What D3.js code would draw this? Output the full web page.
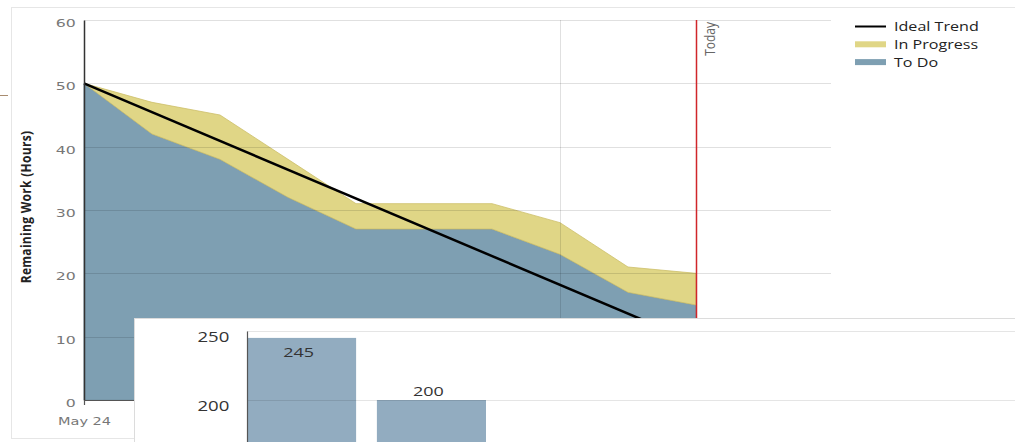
<!DOCTYPE html>
<html>
<head>
<meta charset="utf-8">
<script src="https://cdn.jsdelivr.net/npm/d3@7"></script>
<style>
  body { margin: 0; background: #fff; }
  svg { display: block; font-family: "Open Sans", "Noto Sans", sans-serif; }
</style>
</head>
<body>
<div id="chart"></div>
<script>
// burndown data
const days = ["2013-05-24", "2013-05-25", "2013-05-26", "2013-05-27", "2013-05-28",
              "2013-05-29", "2013-05-30", "2013-05-31", "2013-06-01", "2013-06-02"]
const toDo = [50, 42, 38, 32, 27, 27, 27, 23, 17, 15]
const inProgress = [0, 5, 7, 6, 4, 4, 4, 5, 4, 5]
const idealDays = ["2013-05-24", "2013-06-04"]
const idealValues = [50, 0]
const todayDate = "2013-06-02"
const xTickDays = ["2013-05-24", "2013-05-31"]
const yTicks = [0, 10, 20, 30, 40, 50, 60]

// the small bar chart lying over the bottom
const barCategories = ["A", "B"]
const barValues = [245, 200]
const barTicks = [200, 250]

const colors = { toDo: "#7e9fb2", inProgress: "#e0d686", bar: "#92acc0" }

const W = 1015, H = 442
const parse = d3.timeParse("%Y-%m-%d")
const fmtDay = d => d3.timeFormat("%b ")(d) + d.getDate()

const svg = d3.select("#chart")
    .append("svg")
    .attr("width", W)
    .attr("height", H)

// outer frame
svg.append("rect")
    .attr("x", 11.5).attr("y", 7.5)
    .attr("width", 1100).attr("height", 431)
    .attr("fill", "none")
    .attr("stroke", "#e6e6e6")
svg.append("line")
    .attr("x1", 0).attr("x2", 8).attr("y1", 95.5).attr("y2", 95.5)
    .attr("stroke", "#a88c70")

/* scales */
let x = d3.scaleTime()
    .domain([parse("2013-05-24"), parse("2013-06-04")])
    .range([84, 832])
let y = d3.scaleLinear()
    .domain([0, 60])
    .range([400, 20])

/* stacked areas */
const rows = days.map((d, i) => ({ date: parse(d), toDo: toDo[i], inProgress: inProgress[i] }))
const stacked = d3.stack().keys(["toDo", "inProgress"])(rows)

const area = d3.area()
    .x(d => x(d.data.date))
    .y0(d => y(d[0]))
    .y1(d => y(d[1]))

svg.selectAll("path.layer")
    .data(stacked)
    .enter()
    .append("path")
    .attr("class", "layer")
    .attr("d", area)
    .attr("fill", d => colors[d.key])
    .attr("stroke", d => d.key === "toDo" ? "#6f8ea0" : "#cdbf6a")
    .attr("stroke-width", 0.8)

/* grid */
svg.append("g")
    .selectAll("line")
    .data(yTicks.filter(t => t > 0))
    .enter()
    .append("line")
    .attr("x1", 84).attr("x2", 831)
    .attr("y1", d => Math.round(y(d)) + 0.5)
    .attr("y2", d => Math.round(y(d)) + 0.5)
    .attr("stroke", "rgba(0,0,0,0.12)")
svg.append("line")
    .attr("x1", Math.round(x(parse(xTickDays[1]))) + 0.5)
    .attr("x2", Math.round(x(parse(xTickDays[1]))) + 0.5)
    .attr("y1", 20).attr("y2", 400)
    .attr("stroke", "rgba(0,0,0,0.12)")

/* ideal trend */
svg.append("path")
    .datum(idealDays.map((d, i) => [parse(d), idealValues[i]]))
    .attr("d", d3.line().x(d => x(d[0])).y(d => y(d[1])))
    .attr("fill", "none")
    .attr("stroke", "#000")
    .attr("stroke-width", 2.5)

/* today marker */
const tx = Math.round(x(parse(todayDate))) + 0.5
svg.append("line")
    .attr("x1", tx).attr("x2", tx)
    .attr("y1", 20).attr("y2", 400)
    .attr("stroke", "#d0262a")
    .attr("stroke-width", 1.5)
svg.append("text")
    .attr("transform", `translate(${tx + 18.5}, 22) rotate(-90) scale(1, 1.25)`)
    .attr("text-anchor", "end")
    .attr("font-size", 12)
    .attr("fill", "#666")
    .text("Today")

/* axes */
svg.append("g")
    .attr("transform", "translate(84, 0)")
    .call(d3.axisLeft(y).tickValues(yTicks).tickSize(0))
    .call(g => g.select(".domain").attr("stroke", "#333").attr("stroke-width", 1.5))
    .call(g => g.selectAll("text")
        .attr("x", -5.5)
        .attr("dy", "0.62em")
        .attr("transform", "scale(1.5, 1)")
        .attr("font-size", 10.5)
        .attr("fill", "#777")
        .attr("font-family", "'DejaVu Sans', sans-serif"))

svg.append("g")
    .attr("transform", "translate(0, 400)")
    .call(d3.axisBottom(x).tickValues(xTickDays.map(parse)).tickFormat(fmtDay).tickSize(5).tickPadding(13))
    .call(g => g.select(".domain").attr("stroke", "#555").attr("stroke-width", 1.2))
    .call(g => g.selectAll("line").attr("stroke", "#555"))
    .call(g => g.selectAll("text")
        .attr("transform", "scale(1.38, 1)")
        .attr("font-size", 10.5)
        .attr("fill", "#777")
        .attr("font-family", "'DejaVu Sans', sans-serif"))

svg.append("text")
    .attr("transform", "translate(31, 207) rotate(-90) scale(1, 1.15)")
    .attr("text-anchor", "middle")
    .attr("font-size", 12)
    .attr("font-weight", "bold")
    .attr("letter-spacing", 0.3)
    .attr("fill", "#222")
    .text("Remaining Work (Hours)")

/* legend */
const legend = svg.append("g").attr("transform", "translate(855, 26.5)")
const legendItems = [
    { label: "Ideal Trend", type: "line", color: "#000" },
    { label: "In Progress", type: "rect", color: colors.inProgress },
    { label: "To Do", type: "rect", color: colors.toDo }
]
legendItems.forEach((it, i) => {
    const g = legend.append("g").attr("transform", `translate(0, ${i * 17.8})`)
    if (it.type === "line") {
        g.append("line").attr("x1", 0).attr("x2", 31).attr("y1", 0).attr("y2", 0)
            .attr("stroke", it.color).attr("stroke-width", 2)
    } else {
        g.append("rect").attr("x", 0).attr("y", -3).attr("width", 31).attr("height", 6)
            .attr("fill", it.color)
    }
    g.append("text")
        .attr("transform", "translate(39, 0) scale(1.24, 1)")
        .attr("dy", "0.36em")
        .attr("font-size", 13)
        .attr("fill", "#222")
        .text(it.label)
})

/* overlaid bar panel */
const panel = svg.append("g")
panel.append("rect")
    .attr("x", 134.5).attr("y", 318.5)
    .attr("width", 1000).attr("height", 200)
    .attr("fill", "#fff")
    .attr("stroke", "#dcdcdc")

let bx = d3.scaleBand()
    .domain(barCategories)
    .range([247, 486])
    .paddingInner(0.16)
    .paddingOuter(0)
let by = d3.scaleLinear()
    .domain([0, 250])
    .range([676, 331])

panel.selectAll("rect.bar")
    .data(barValues)
    .enter()
    .append("rect")
    .attr("class", "bar")
    .attr("x", (d, i) => bx(barCategories[i]))
    .attr("y", d => by(d))
    .attr("width", bx.bandwidth())
    .attr("height", d => by(0) - by(d))
    .attr("fill", colors.bar)

panel.selectAll("line.bgrid")
    .data(barTicks)
    .enter()
    .append("line")
    .attr("class", "bgrid")
    .attr("x1", 247).attr("x2", W)
    .attr("y1", d => Math.round(by(d)) + 0.5)
    .attr("y2", d => Math.round(by(d)) + 0.5)
    .attr("stroke", "rgba(0,0,0,0.1)")

panel.append("g")
    .attr("transform", "translate(247, 0)")
    .call(d3.axisLeft(by).tickValues(barTicks).tickSize(0))
    .call(g => g.select(".domain").attr("stroke", "#555").attr("stroke-width", 1.2))
    .call(g => g.selectAll("text")
        .attr("x", -13.3)
        .attr("dy", "0.77em")
        .attr("transform", "scale(1.33, 1)")
        .attr("font-size", 14)
        .attr("fill", "#333")
        .attr("font-family", "'Open Sans', sans-serif"))

panel.selectAll("text.blabel")
    .data(barValues)
    .enter()
    .append("text")
    .attr("class", "blabel")
    .attr("transform", (d, i) => {
        const cx = bx(barCategories[i]) + bx.bandwidth() / 2 - 3
        const cy = i === 0 ? by(d) + 19.3 : by(d) - 4.3
        return `translate(${cx}, ${cy}) scale(1.33, 1)`
    })
    .attr("text-anchor", "middle")
    .attr("font-size", 13.5)
    .attr("fill", "#333")
    .text(d => d)
</script>
</body>
</html>
